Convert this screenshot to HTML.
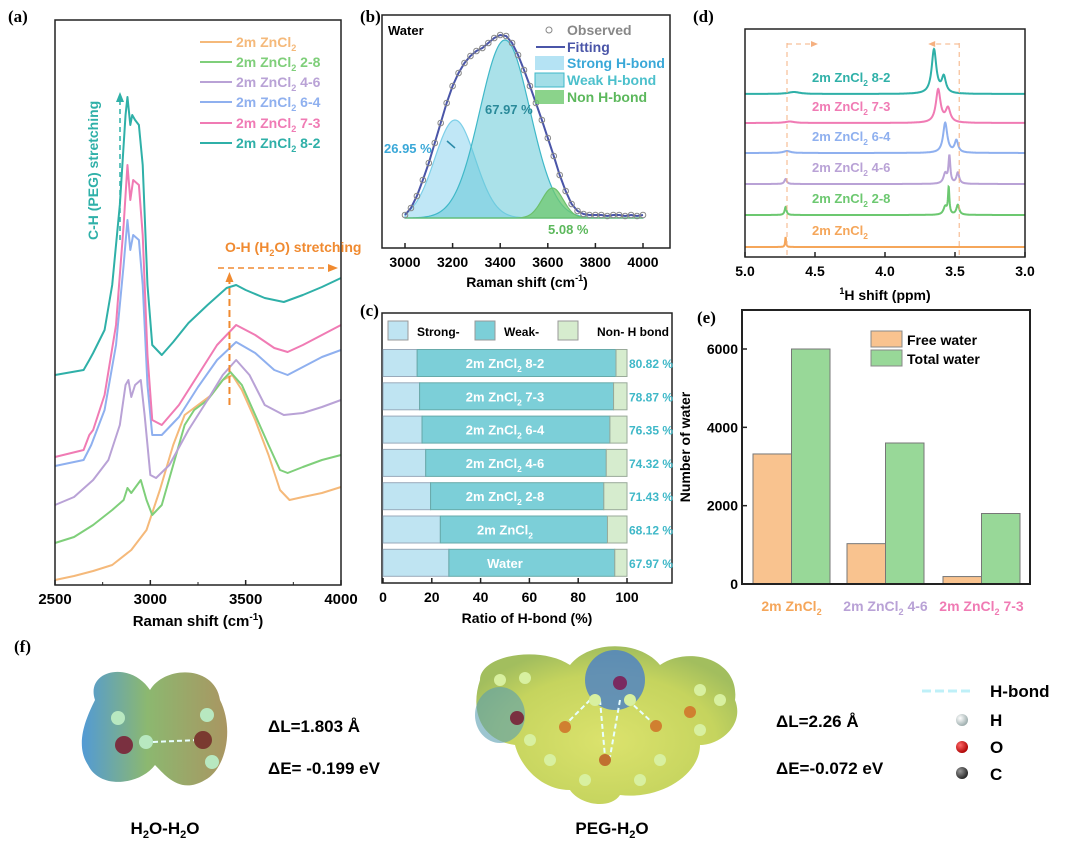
<!DOCTYPE html>
<html><head><meta charset="utf-8"><style>
body{margin:0;background:#fff}
svg{display:block;font-family:"Liberation Sans",Arial,sans-serif;font-weight:bold}
.pl{font-family:"Liberation Serif",serif;font-size:17px;font-weight:bold}
</style></head><body>
<svg id="fig" width="1080" height="854" viewBox="0 0 1080 854">
<defs>
<radialGradient id="blobA" cx="0.45" cy="0.5" r="0.6"><stop offset="0" stop-color="#7fb86a"/><stop offset="0.6" stop-color="#6aa070"/><stop offset="1" stop-color="#4d8fb8"/></radialGradient>
<linearGradient id="blobA2" x1="0" x2="1"><stop offset="0" stop-color="#3f8fd0"/><stop offset="0.45" stop-color="#7fb060"/><stop offset="1" stop-color="#a08a50"/></linearGradient>
<radialGradient id="blobP" cx="0.5" cy="0.6" r="0.6"><stop offset="0" stop-color="#d8e060"/><stop offset="0.7" stop-color="#c0d050"/><stop offset="1" stop-color="#9ab850"/></radialGradient>
<radialGradient id="ballH" cx="0.35" cy="0.35" r="0.7"><stop offset="0" stop-color="#fff"/><stop offset="1" stop-color="#9aa"/></radialGradient>
<radialGradient id="ballO" cx="0.35" cy="0.35" r="0.7"><stop offset="0" stop-color="#f66"/><stop offset="1" stop-color="#a00"/></radialGradient>
<radialGradient id="ballC" cx="0.35" cy="0.35" r="0.7"><stop offset="0" stop-color="#999"/><stop offset="1" stop-color="#222"/></radialGradient>
</defs>
<g id="pa"></g>
<g id="pb"></g>
<g id="pc"></g>
<g id="pd"></g>
<g id="pe"></g>
<g id="pf">
<text class="pl" x="14" y="652">(f)</text>
<g>
<path d="M95,700 C85,670 130,660 150,690 C165,665 215,665 220,700 C235,730 225,770 205,780 C180,795 165,775 155,765 C140,785 100,790 88,765 C75,745 85,720 95,700Z" fill="url(#blobA2)" opacity="0.9"/>
<line x1="153" y1="742" x2="198" y2="740" stroke="#e8ffff" stroke-width="2" stroke-dasharray="5,3"/>
<circle cx="124" cy="745" r="9" fill="#7a3040"/><circle cx="203" cy="740" r="9" fill="#7a3a30"/>
<circle cx="118" cy="718" r="7" fill="#b8e8c0"/><circle cx="146" cy="742" r="7" fill="#b8e8c0"/>
<circle cx="207" cy="715" r="7" fill="#b8e8c0"/><circle cx="212" cy="762" r="7" fill="#b8e8c0"/>
</g>
<text x="268" y="732" font-size="17">ΔL=1.803 Å</text>
<text x="268" y="774" font-size="17">ΔE= -0.199 eV</text>
<text x="165" y="834" font-size="17" text-anchor="middle">H<tspan font-size="11" dy="4">2</tspan><tspan dy="-4">O-H</tspan><tspan font-size="11" dy="4">2</tspan><tspan dy="-4">O</tspan></text>
<g>
<path d="M480,680 C480,655 540,645 570,665 C590,640 640,640 660,665 C690,645 740,660 735,700 C745,725 720,745 700,745 C700,775 660,800 620,795 C610,810 580,805 570,790 C540,790 520,765 515,745 C480,740 470,710 480,680Z" fill="url(#blobP)" opacity="0.92"/>
<ellipse cx="615" cy="680" rx="30" ry="30" fill="#4a7fc8" opacity="0.8"/>
<ellipse cx="500" cy="715" rx="25" ry="28" fill="#5a9fb0" opacity="0.6"/>
<path d="M590,700 L565,725 M628,700 L655,725 M600,700 L605,757 M620,700 L610,757" stroke="#e8ffff" stroke-width="2" stroke-dasharray="5,3"/>
<circle cx="620" cy="683" r="7" fill="#7a2a60"/>
<circle cx="565" cy="727" r="6" fill="#d08030"/><circle cx="656" cy="726" r="6" fill="#d08030"/><circle cx="605" cy="760" r="6" fill="#c07030"/>
<circle cx="517" cy="718" r="7" fill="#7a3040"/><circle cx="690" cy="712" r="6" fill="#d08030"/>
<g fill="#d8f0a0"><circle cx="500" cy="680" r="6"/><circle cx="525" cy="678" r="6"/><circle cx="595" cy="700" r="6"/><circle cx="630" cy="700" r="6"/><circle cx="550" cy="760" r="6"/><circle cx="585" cy="780" r="6"/><circle cx="640" cy="780" r="6"/><circle cx="660" cy="760" r="6"/><circle cx="700" cy="690" r="6"/><circle cx="720" cy="700" r="6"/><circle cx="700" cy="730" r="6"/><circle cx="530" cy="740" r="6"/></g>
</g>
<text x="776" y="727" font-size="17">ΔL=2.26 Å</text>
<text x="776" y="774" font-size="17">ΔE=-0.072 eV</text>
<text x="612" y="834" font-size="17" text-anchor="middle">PEG-H<tspan font-size="11" dy="4">2</tspan><tspan dy="-4">O</tspan></text>
<g>
<line x1="922" y1="691" x2="972" y2="691" stroke="#bff0f8" stroke-width="3" stroke-dasharray="9,4"/>
<text x="990" y="697" font-size="17">H-bond</text>
<circle cx="962" cy="720" r="6" fill="url(#ballH)"/><text x="990" y="726" font-size="17">H</text>
<circle cx="962" cy="747" r="6" fill="url(#ballO)"/><text x="990" y="753" font-size="17">O</text>
<circle cx="962" cy="773" r="6" fill="url(#ballC)"/><text x="990" y="780" font-size="17">C</text>
</g>
</g>
</svg>
<script>
// ===== Panel a data (Raman spectra, intensity a.u.) =====
const aLabels = ["2m ZnCl2","2m ZnCl2 2-8","2m ZnCl2 4-6","2m ZnCl2 6-4","2m ZnCl2 7-3","2m ZnCl2 8-2"];
const aSuffix = ["","2-8","4-6","6-4","7-3","8-2"];
const aColors = ["#f5b97a","#7fcf7a","#b9a2d6","#8fb0ef","#f07bb4","#2fb0a8"];
const aXTicks = [2500,3000,3500,4000];
const aOrange = [[2500,5],[2600,9],[2700,14],[2800,20],[2900,35],[2980,55],[3050,95],[3120,140],[3180,170],[3250,180],[3320,190],[3380,205],[3430,210],[3480,195],[3550,165],[3620,130],[3680,95],[3730,85],[3800,88],[3900,92],[4000,98]];
const aGreen = [[2500,42],[2600,48],[2700,60],[2800,75],[2860,85],[2880,97],[2900,92],[2950,105],[2980,85],[3010,70],[3060,80],[3120,120],[3180,160],[3230,175],[3300,185],[3380,205],[3420,213],[3480,200],[3550,170],[3620,140],[3680,115],[3720,112],[3800,118],[3900,125],[4000,130]];
const aPurple = [[2500,80],[2600,88],[2700,105],[2780,125],[2840,160],[2870,200],[2885,205],[2900,188],[2920,200],[2950,205],[2970,170],[3000,110],[3030,107],[3100,120],[3200,155],[3300,185],[3380,210],[3450,225],[3520,210],[3600,180],[3700,170],[3800,172],[3900,178],[4000,185]];
const aBlue = [[2500,119],[2650,125],[2690,140],[2760,175],[2820,240],[2860,320],[2880,365],[2895,335],[2910,350],[2940,345],[2960,300],[2985,200],[3010,150],[3060,150],[3150,168],[3250,198],[3350,225],[3450,243],[3550,232],[3650,215],[3720,210],[3800,218],[3900,228],[4000,235]];
const aPink = [[2500,128],[2650,135],[2680,150],[2700,155],[2760,190],[2820,260],[2860,360],[2880,420],[2895,385],[2910,405],[2940,400],[2960,350],[2985,230],[3010,165],[3060,160],[3150,180],[3250,210],[3350,240],[3450,260],[3550,250],[3650,237],[3720,233],[3800,240],[3900,250],[4000,260]];
const aTeal = [[2500,210],[2650,215],[2680,225],[2700,232],[2760,255],[2800,300],[2840,380],[2870,470],[2880,488],[2895,460],[2905,470],[2920,465],[2940,460],[2960,420],[2985,300],[3010,240],[3060,230],[3120,243],[3200,262],[3300,280],[3400,297],[3450,300],[3500,295],[3600,287],[3700,283],[3800,290],[3900,298],[4000,307]];
const aSeries = [aOrange,aGreen,aPurple,aBlue,aPink,aTeal];

// ===== Panel b data =====
const bXTicks = [3000,3200,3400,3600,3800,4000];
const bObsX = [3000,3025,3050,3075,3100,3125,3150,3175,3200,3225,3250,3275,3300,3325,3350,3375,3400,3425,3450,3475,3500,3525,3550,3575,3600,3625,3650,3675,3700,3725,3750,3775,3800,3825,3850,3875,3900,3925,3950,3975,4000];
const bObsY = [3,10,22,38,55,75,95,115,132,145,155,162,167,170,175,180,183,182,175,163,148,132,115,98,80,62,43,27,14,7,4,3,3,3,2,3,3,2,3,2,3];
const bComponents = ["Strong H-bond","Weak H-bond","Non H-bond"];
const bCenters = [3210,3420,3620];
const bHeights = [98,178,30];
const bSigmas = [85,105,45];

// ===== Panel c data =====
const cCats = ["2m ZnCl2 8-2","2m ZnCl2 7-3","2m ZnCl2 6-4","2m ZnCl2 4-6","2m ZnCl2 2-8","2m ZnCl2","Water"];
const cStrong = [14,15,16,17.5,19.5,23.5,27];
const cWeak = [81.5,79.5,77,74,71,68.5,68];
const cPct = ["80.82 %","78.87 %","76.35 %","74.32 %","71.43 %","68.12 %","67.97 %"];
const cXTicks = [0,20,40,60,80,100];

// ===== Panel d data (NMR) =====
const dLabels = ["2m ZnCl2","2m ZnCl2 2-8","2m ZnCl2 4-6","2m ZnCl2 6-4","2m ZnCl2 7-3","2m ZnCl2 8-2"];
const dOffsets = [0,32,63,94,124,153];
const dPos = [[4.71],[4.71,3.57,3.545,3.48],[4.71,3.57,3.54,3.48],[4.70,3.57,3.49],[4.68,3.62,3.55],[4.65,3.65,3.58]];
const dHt = [[10],[8,8,26,10],[5,10,27,11],[2,30,12],[1.5,33,14],[2,44,16]];
const dW = [[0.004],[0.008,0.015,0.006,0.012],[0.01,0.015,0.008,0.012],[0.03,0.018,0.015],[0.04,0.02,0.02],[0.05,0.02,0.018]];
const dXTicks = [5.0,4.5,4.0,3.5,3.0];

// ===== Panel e data =====
const eCats = ["2m ZnCl2","2m ZnCl2 4-6","2m ZnCl2 7-3"];
const eFree = [3320,1030,190];
const eTotal = [6000,3600,1800];
const eYTicks = [0,2000,4000,6000];

const NS="http://www.w3.org/2000/svg";
function mk(parent,tag,attrs,text){const e=document.createElementNS(NS,tag);for(const k in attrs)e.setAttribute(k,attrs[k]);if(text!==undefined)e.textContent=text;parent.appendChild(e);return e;}
function zn(parent,x,y,size,color,suffix,anchor){
  const t=mk(parent,"text",{x:x,y:y,"font-size":size,fill:color,"text-anchor":anchor||"start"});
  
  
  mk(t,"tspan",{},"2m ZnCl");mk(t,"tspan",{"font-size":size*0.65,dy:4},"2");
  mk(t,"tspan",{dy:-4},suffix?" "+suffix:"");return t;}

// ---------- Panel a ----------
(function(){
const g=document.getElementById('pa');
const X0=55,X1=341,Y0=20,Y1=585;
const sx=v=>X0+(v-2500)/1500*(X1-X0), sy=v=>Y1-v;
mk(g,"text",{class:"pl",x:8,y:22},"(a)");
aSeries.forEach((s,i)=>{const p=mk(g,"polyline",{points:s.map(d=>sx(d[0])+","+sy(d[1])).join(" "),fill:"none",stroke:aColors[i],"stroke-width":2,"stroke-linejoin":"round"});

});
const fr=mk(g,"rect",{x:X0,y:Y0,width:X1-X0,height:Y1-Y0,fill:"none",stroke:"#222","stroke-width":1.5});


aXTicks.forEach(v=>{mk(g,"line",{x1:sx(v),x2:sx(v),y1:Y1,y2:Y1-5,stroke:"#222","stroke-width":1.5});
const t=mk(g,"text",{x:sx(v),y:Y1+19,"font-size":15,"text-anchor":"middle"},v);

});
for(let v=2750;v<4000;v+=500)mk(g,"line",{x1:sx(v),x2:sx(v),y1:Y1,y2:Y1-3,stroke:"#222"});
const xt=mk(g,"text",{x:(X0+X1)/2,y:Y1+41,"font-size":15,"text-anchor":"middle"});


mk(xt,"tspan",{},"Raman shift (cm");mk(xt,"tspan",{"font-size":10,dy:-6},"-1");mk(xt,"tspan",{dy:6},")");
const ly=[47,67,87,107,128,148];
aLabels.forEach((l,i)=>{const le=mk(g,"g",{});


mk(le,"line",{x1:200,x2:232,y1:ly[i]-5,y2:ly[i]-5,stroke:aColors[i],"stroke-width":2});
zn(le,236,ly[i],14,aColors[i],aSuffix[i]);});
const c1=mk(g,"text",{x:0,y:0,"font-size":14,fill:"#2fb0a8",transform:"translate(98,240) rotate(-90)"},"C-H (PEG) stretching");


mk(g,"line",{x1:120,x2:120,y1:240,y2:100,stroke:"#2fb0a8","stroke-width":1.5,"stroke-dasharray":"5,4"});
mk(g,"path",{d:"M116,102 L120,92 L124,102Z",fill:"#2fb0a8"});
const oh=mk(g,"text",{x:225,y:252,"font-size":14,fill:"#f08a30"});


mk(oh,"tspan",{},"O-H (H");mk(oh,"tspan",{"font-size":9,dy:4},"2");mk(oh,"tspan",{dy:-4},"O) stretching");
mk(g,"line",{x1:218,x2:330,y1:268,y2:268,stroke:"#f08a30","stroke-width":1.5,"stroke-dasharray":"6,4"});
mk(g,"path",{d:"M328,264 L338,268 L328,272Z",fill:"#f08a30"});
mk(g,"line",{x1:sx(3415),x2:sx(3415),y1:405,y2:282,stroke:"#f08a30","stroke-width":2,"stroke-dasharray":"7,4"});
mk(g,"path",{d:`M${sx(3415)-4},282 L${sx(3415)},272 L${sx(3415)+4},282Z`,fill:"#f08a30"});
})();

// ---------- Panel b ----------
(function(){
const g=document.getElementById('pb');
const X0=382,X1=670,Y0=15,Y1=248,BL=218;
const sx=v=>405+(v-3000)/1000*238, sy=v=>BL-v;
mk(g,"text",{class:"pl",x:360,y:22},"(b)");
const fills=["rgba(150,215,240,0.6)","rgba(100,200,215,0.55)","rgba(110,200,110,0.75)"];
const strokes=["#7ccfe8","#3fb8c8","#6cc06c"];
bComponents.forEach((n,k)=>{const pts=[];for(let x=3000;x<=4000;x+=5){pts.push(sx(x)+","+sy(bHeights[k]*Math.exp(-((x-bCenters[k])**2)/(2*bSigmas[k]**2))));}
const p=mk(g,"path",{d:"M"+sx(3000)+","+BL+" L"+pts.join(" L")+" L"+sx(4000)+","+BL+"Z",fill:fills[k],stroke:strokes[k],"stroke-width":1.2});

});
const fit=mk(g,"polyline",{points:bObsX.map((x,i)=>sx(x)+","+sy(bObsY[i])).join(" "),fill:"none",stroke:"#4a55a8","stroke-width":2});


bObsX.forEach((x,i)=>{const c=mk(g,"circle",{cx:sx(x),cy:sy(bObsY[i]),r:2.8,fill:"none",stroke:"#888","stroke-width":1});

});
const fr=mk(g,"rect",{x:X0,y:Y0,width:X1-X0,height:Y1-Y0,fill:"none",stroke:"#222","stroke-width":1.5});


bXTicks.forEach(v=>{mk(g,"line",{x1:sx(v),x2:sx(v),y1:Y1,y2:Y1-5,stroke:"#222","stroke-width":1.5});
const t=mk(g,"text",{x:sx(v),y:Y1+19,"font-size":14,"text-anchor":"middle"},v);

});
const xt=mk(g,"text",{x:527,y:287,"font-size":14,"text-anchor":"middle"});


mk(xt,"tspan",{},"Raman shift (cm");mk(xt,"tspan",{"font-size":9,dy:-6},"-1");mk(xt,"tspan",{dy:6},")");
mk(g,"text",{x:388,y:35,"font-size":13},"Water");
mk(g,"circle",{cx:549,cy:30,r:3,fill:"none",stroke:"#888"});
mk(g,"text",{x:567,y:35,"font-size":14,fill:"#888"},"Observed");
mk(g,"line",{x1:536,x2:565,y1:47,y2:47,stroke:"#4a55a8","stroke-width":2});
mk(g,"text",{x:567,y:52,"font-size":14,fill:"#4a55a8"},"Fitting");
mk(g,"rect",{x:535,y:56,width:29,height:14,fill:"rgba(150,215,240,0.7)"});
mk(g,"text",{x:567,y:68,"font-size":14,fill:"#3aa8d8"},"Strong H-bond");
mk(g,"rect",{x:535,y:73,width:29,height:14,fill:"rgba(100,200,215,0.6)",stroke:"#3fb8c8"});
mk(g,"text",{x:567,y:85,"font-size":14,fill:"#4cc0cc"},"Weak H-bond");
mk(g,"rect",{x:535,y:90,width:29,height:14,fill:"rgba(110,200,110,0.8)"});
mk(g,"text",{x:567,y:102,"font-size":14,fill:"#5cb85c"},"Non H-bond");
mk(g,"text",{x:485,y:114,"font-size":13,fill:"#2a8a9a"},"67.97 %");
mk(g,"text",{x:384,y:153,"font-size":13,fill:"#3aa8d8"},"26.95 %");
mk(g,"line",{x1:447,x2:455,y1:141,y2:148,stroke:"#2a8aa8","stroke-width":1.5});
mk(g,"text",{x:548,y:234,"font-size":13,fill:"#5cb85c"},"5.08 %");
})();

// ---------- Panel c ----------
(function(){
const g=document.getElementById('pc');
const X0=382,X1=672,Y0=313,Y1=583;
const sx=v=>383+v/100*244;
mk(g,"text",{class:"pl",x:360,y:316},"(c)");
const fr=mk(g,"rect",{x:X0,y:Y0,width:X1-X0,height:Y1-Y0,fill:"none",stroke:"#222","stroke-width":1.5});


[["Strong-","#bfe4f2",383],["Weak-","#7ccfd8",470],["Non- H bond","#d6ecce",553]].forEach(l=>{
mk(g,"rect",{x:l[2]+5,y:321,width:20,height:19,fill:l[1],stroke:"#999"});
mk(g,"text",{x:l[2]+(l[0]=="Non- H bond"?44:34),y:336,"font-size":12},l[0]);});
cCats.forEach((c,i)=>{const cy=363+i*33.3, h=27, y=cy-h/2;
const s=cStrong[i], w=cWeak[i];
const r1=mk(g,"rect",{x:sx(0),y:y,width:sx(s)-sx(0),height:h,fill:"#bfe4f2",stroke:"#9ab"});


const r2=mk(g,"rect",{x:sx(s),y:y,width:sx(s+w)-sx(s),height:h,fill:"#7ccfd8",stroke:"#6aa"});


const r3=mk(g,"rect",{x:sx(s+w),y:y,width:sx(100)-sx(s+w),height:h,fill:"#d6ecce",stroke:"#9a9"});


if(c=="Water"){const t=mk(g,"text",{x:sx(50),y:cy+5,"font-size":13,fill:"#fff","text-anchor":"middle"},"Water");}
else zn(g,sx(50),cy+5,13,"#fff",c.replace("2m ZnCl2","").trim(),"middle");
const p=mk(g,"text",{x:629,y:cy+5,"font-size":12,fill:"#3fb8c8"},cPct[i]);

});
cXTicks.forEach(v=>{mk(g,"line",{x1:sx(v),x2:sx(v),y1:Y1,y2:Y1-5,stroke:"#222","stroke-width":1.5});
const t=mk(g,"text",{x:sx(v),y:Y1+19,"font-size":14,"text-anchor":"middle"},v);

});
const xt=mk(g,"text",{x:527,y:623,"font-size":14,"text-anchor":"middle"},"Ratio of H-bond (%)");


})();

// ---------- Panel d ----------
(function(){
const g=document.getElementById('pd');
const X0=745,X1=1025,Y0=29,Y1=257,B0=247;
const sx=v=>X0+(5-v)/2*(X1-X0);
mk(g,"text",{class:"pl",x:693,y:22},"(d)");
const dCols=["#f5a65a","#6cc870","#b9a2d6","#8fb0ef","#f07bb4","#2fb0a8"];
dLabels.forEach((l,i)=>{const base=B0-dOffsets[i];const pts=[];
for(let k=0;k<=1400;k++){const x=5-k/700;let y=0;dPos[i].forEach((p,j)=>{const w=dW[i][j];y+=dHt[i][j]*w*w/((x-p)**2+w*w);});pts.push(sx(x).toFixed(1)+","+(base-y).toFixed(1));}
const pl=mk(g,"polyline",{points:pts.join(" "),fill:"none",stroke:dCols[i],"stroke-width":2});


zn(g,812,base-12,13,dCols[i],l.replace("2m ZnCl2","").trim());});
mk(g,"line",{x1:sx(4.70),x2:sx(4.70),y1:43,y2:257,stroke:"#f5b080","stroke-dasharray":"5,4"});
mk(g,"line",{x1:sx(3.47),x2:sx(3.47),y1:43,y2:257,stroke:"#f5b080","stroke-dasharray":"5,4"});
mk(g,"line",{x1:sx(4.70),x2:sx(4.5),y1:44,y2:44,stroke:"#f5b080","stroke-dasharray":"5,4"});
mk(g,"path",{d:`M${sx(4.5)-4},41 L${sx(4.5)+3},44 L${sx(4.5)-4},47Z`,fill:"#f5b080"});
mk(g,"line",{x1:sx(3.47),x2:sx(3.67),y1:44,y2:44,stroke:"#f5b080","stroke-dasharray":"5,4"});
mk(g,"path",{d:`M${sx(3.67)+4},41 L${sx(3.67)-3},44 L${sx(3.67)+4},47Z`,fill:"#f5b080"});
const fr=mk(g,"rect",{x:X0,y:Y0,width:X1-X0,height:Y1-Y0,fill:"none",stroke:"#222","stroke-width":1.5});


dXTicks.forEach(v=>{mk(g,"line",{x1:sx(v),x2:sx(v),y1:Y1,y2:Y1-5,stroke:"#222","stroke-width":1.5});
const t=mk(g,"text",{x:sx(v),y:Y1+19,"font-size":14,"text-anchor":"middle"},v.toFixed(1));

});
const xt=mk(g,"text",{x:885,y:300,"font-size":14,"text-anchor":"middle"});


mk(xt,"tspan",{"font-size":9,dy:-6},"1");mk(xt,"tspan",{dy:6},"H shift (ppm)");
})();

// ---------- Panel e ----------
(function(){
const g=document.getElementById('pe');
const X0=742,X1=1030,Y0=310,Y1=584;
const sy=v=>Y1-v/6000*235;
mk(g,"text",{class:"pl",x:697,y:323},"(e)");
const gx=[753,847,943], bw=38.5;
eCats.forEach((c,i)=>{
const r1=mk(g,"rect",{x:gx[i],y:sy(eFree[i]),width:bw,height:Y1-sy(eFree[i]),fill:"#f9c38f",stroke:"#777"});


const r2=mk(g,"rect",{x:gx[i]+bw,y:sy(eTotal[i]),width:bw,height:Y1-sy(eTotal[i]),fill:"#98d898",stroke:"#777"});

});
const cols=["#f5a65a","#b9a2d6","#f07bb4"];
eCats.forEach((c,i)=>zn(g,gx[i]+bw,611,14,cols[i],c.replace("2m ZnCl2","").trim(),"middle"));
const fr=mk(g,"rect",{x:X0,y:Y0,width:X1-X0,height:Y1-Y0,fill:"none",stroke:"#222","stroke-width":2});


eYTicks.forEach(v=>{mk(g,"line",{x1:X0,x2:X0+5,y1:sy(v),y2:sy(v),stroke:"#222","stroke-width":1.5});
const t=mk(g,"text",{x:X0-4,y:sy(v)+5,"font-size":14,"text-anchor":"end"},v);

});
const yt=mk(g,"text",{x:0,y:0,"font-size":14,"text-anchor":"middle",transform:"translate(690,447) rotate(-90)"},"Number of water");


mk(g,"rect",{x:871,y:331,width:31,height:16,fill:"#f9c38f",stroke:"#888"});
mk(g,"text",{x:907,y:345,"font-size":14},"Free water");
mk(g,"rect",{x:871,y:350,width:31,height:16,fill:"#98d898",stroke:"#888"});
mk(g,"text",{x:907,y:364,"font-size":14},"Total water");
})();
</script>
</body></html>
